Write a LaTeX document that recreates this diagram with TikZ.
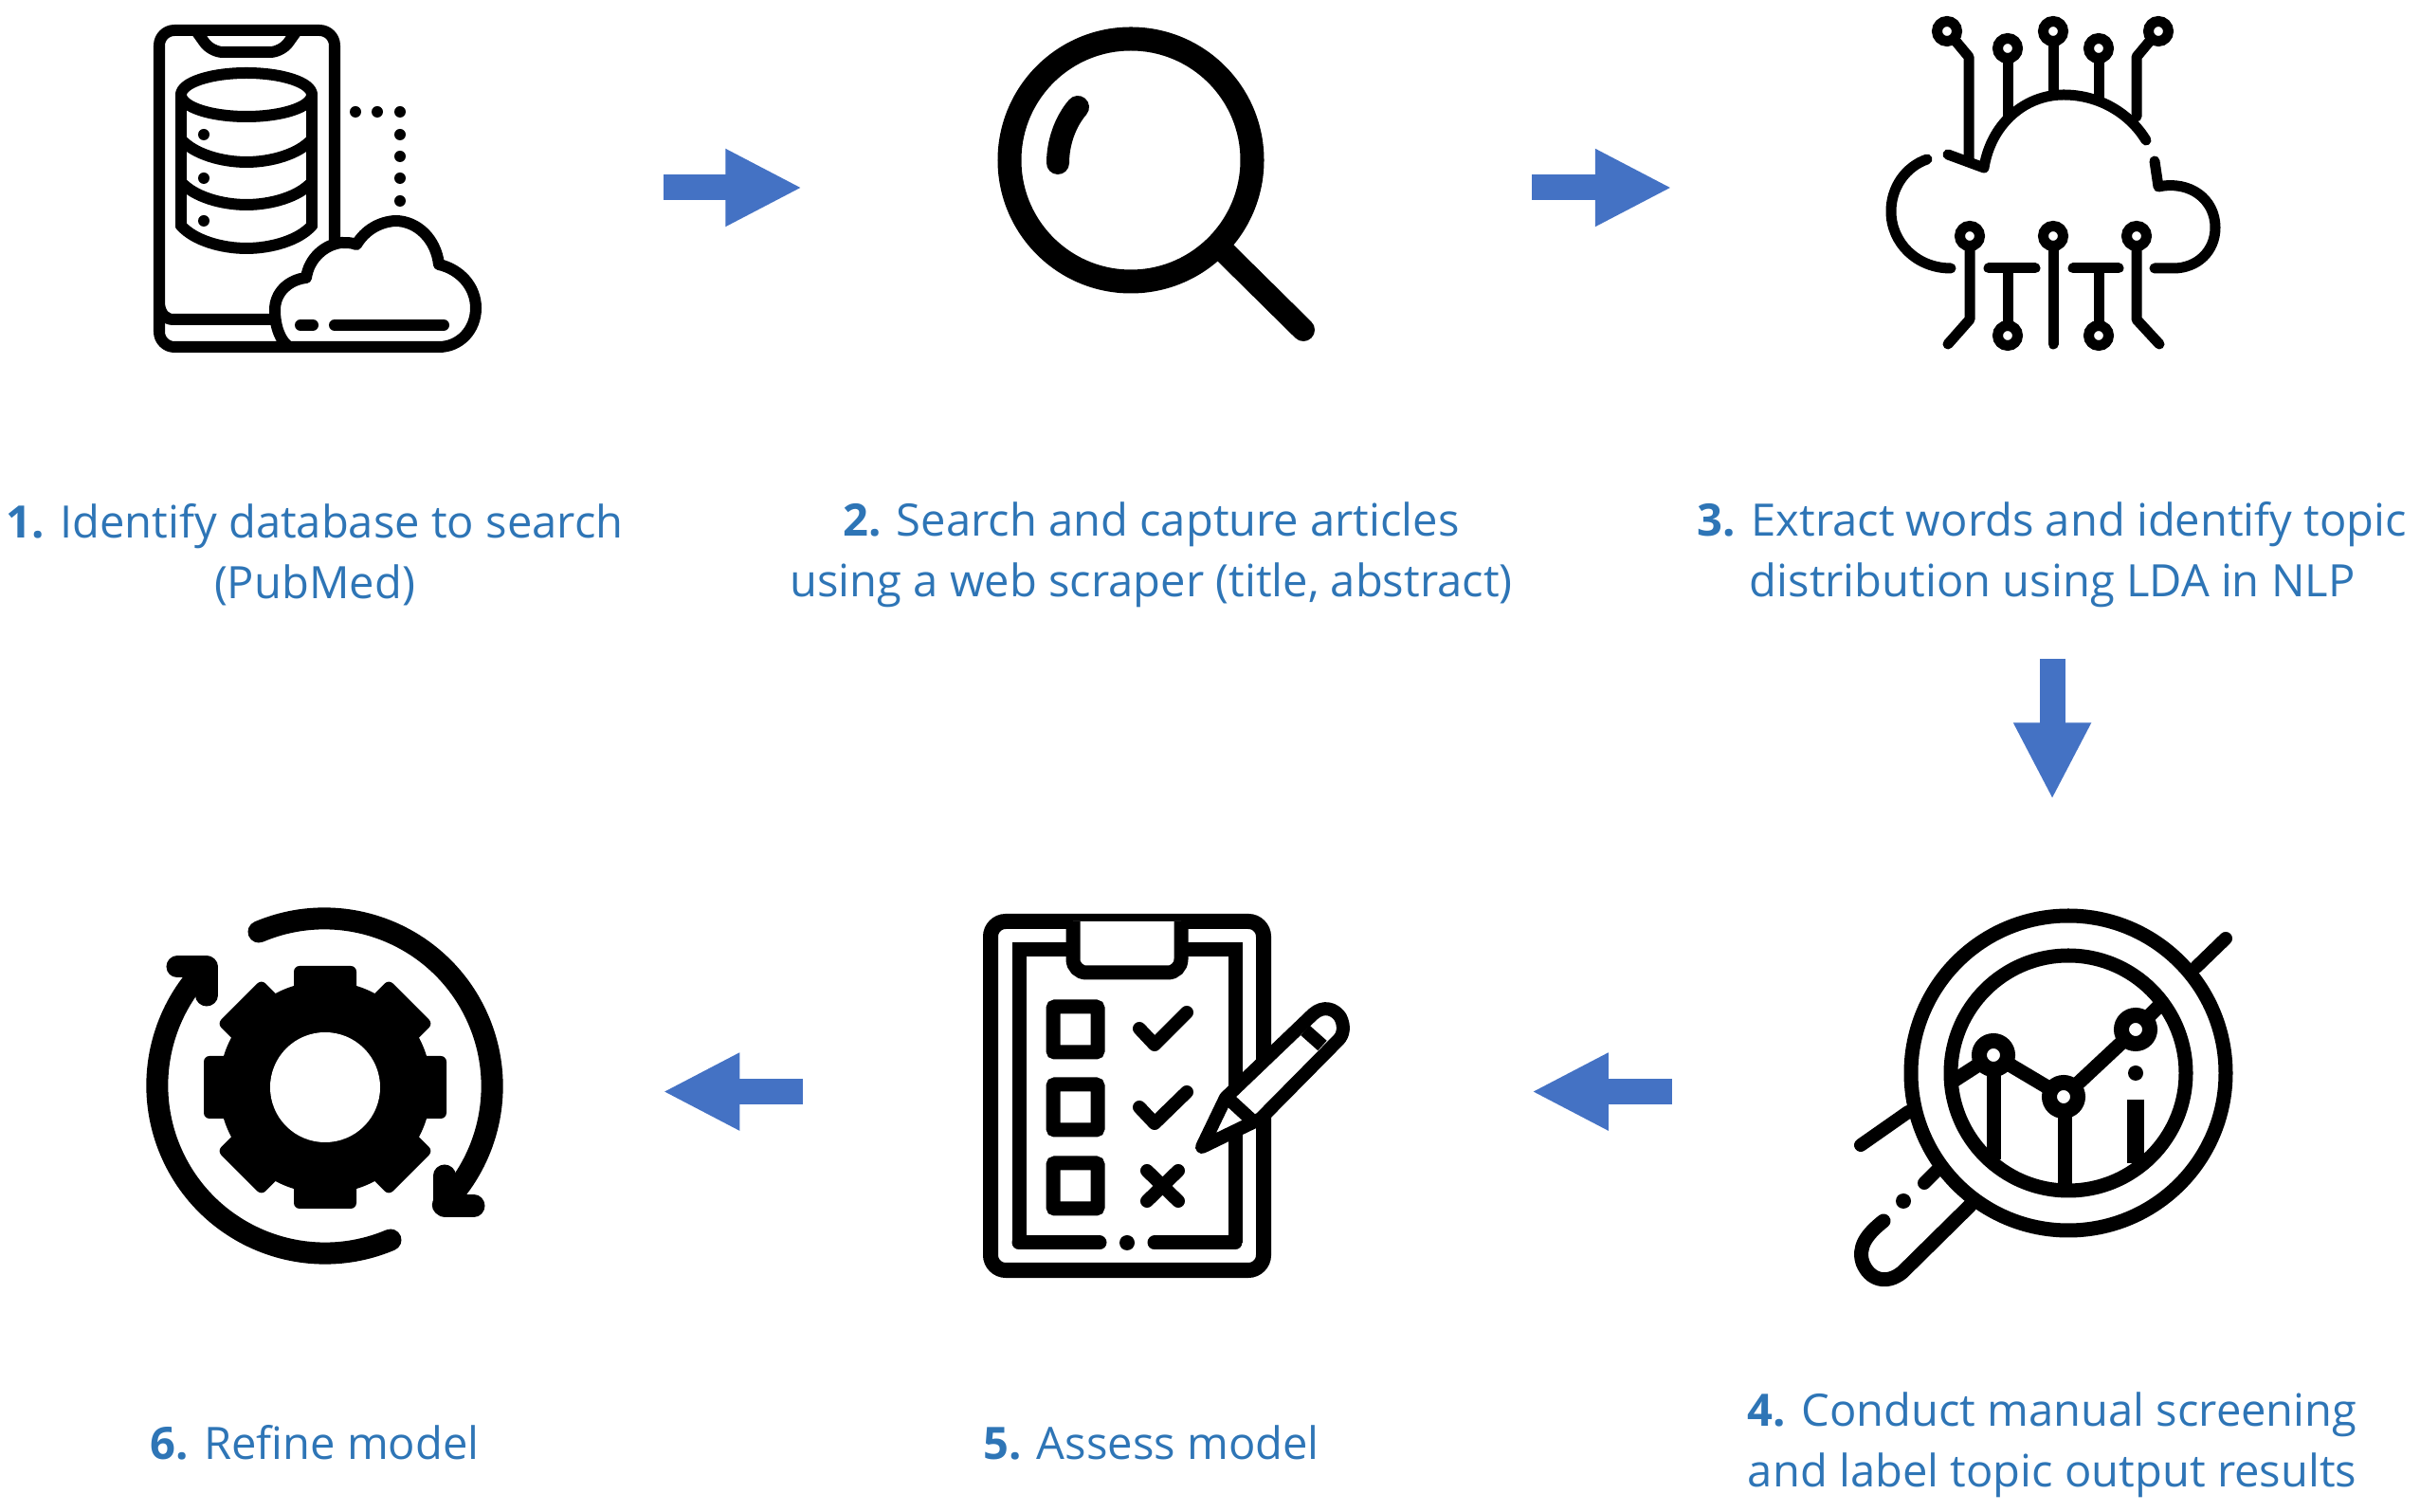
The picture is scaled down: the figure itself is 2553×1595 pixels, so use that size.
\documentclass[tikz,border=0pt]{standalone}
\usepackage{fontspec}
\setmainfont{Open Sans}
\usepackage{xcolor}
\usetikzlibrary{arrows.meta,positioning,calc}
\definecolor{flowblue}{HTML}{4472C4}
\definecolor{textblue}{HTML}{2E75B6}

\begin{document}
\begin{tikzpicture}[
    x=0.01cm, y=-0.01cm,
    icon/.style={rectangle, minimum width=3.5cm, minimum height=3.5cm, inner sep=0pt, outer sep=0pt},
    caption/.style={align=center, inner sep=0pt, outer sep=0pt, text=textblue, font=\fontsize{13.4}{18.2}\selectfont},
    arrow/.style={-{Triangle[width=0.76cm, length=0.81cm]}, line width=0.27cm, draw=flowblue, color=flowblue},
    gap/.style={shorten <=#1, shorten >=#1},
    ink/.style={line width=#1, line cap=round, line join=round},
    ink/.default=0.12cm
]
\useasboundingbox (0,0) rectangle (2553,1595);

% Icon anchors
\node[icon] (dbicon) at (332,198) {};
\node[icon, right=5.32cm of dbicon] (searchicon) {};
\node[icon, right=6cm of searchicon] (cloudicon) {};
\node[icon, below=6.03cm of cloudicon] (charticon) {};
\node[icon, left=6cm of charticon] (assessicon) {};
\node[icon, left=5.32cm of assessicon] (gearicon) {};

% Captions
\node[caption] (dbtext) at ($(dbicon)+(0,387)$) {\textbf{1.} Identify database to search\\(PubMed)};
\node[caption] (searchtext) at ($(searchicon)+(0,387)$) {\textbf{2.} Search and capture articles\\using a web scraper (title, abstract)};
\node[caption] (cloudtext) at ($(cloudicon)+(0,387)$) {\textbf{3.} Extract words and identify topic\\distribution using LDA in NLP};
\node[caption] (charttext) at ($(charticon)+(0,373)$) {\textbf{4.} Conduct manual screening\\and label topic output results};
\node[caption] (assesstext) at ($(assessicon)+(0,370)$) {\textbf{5.} Assess model};
\node[caption] (geartext) at ($(gearicon)+(0,370)$) {\textbf{6.} Refine model};

% Arrows
\draw[arrow, gap=1.93cm] (dbicon) -- (searchicon);
\draw[arrow, gap=2.26cm] (searchicon) -- (cloudicon);
\draw[arrow, shorten <=3.22cm, shorten >=1.33cm] (cloudicon) -- (charticon);
\draw[arrow, gap=2.26cm] (charticon) -- (assessicon);
\draw[arrow, gap=1.92cm] (assessicon) -- (gearicon);

% Phone with database
\draw[ink, rounded corners=0.16cm] (353,253) -- (353,32) -- (168,32) -- (168,366) -- (310,366);
\draw[ink, rounded corners=0.12cm] (208,34) -- (223,55) -- (297,55) -- (312,34);
\draw[ink] (168,322) .. controls (170,332) and (175,337) .. (183,337) -- (287,337);
\draw[ink] (260,100) ellipse [x radius=69, y radius=23];
\draw[ink] (191,100) -- (191,238);
\draw[ink] (329,100) -- (329,238);
\foreach \ybase in {147,192,238}
    \draw[ink] (191,\ybase) .. controls (205,\ybase+16) and (235,\ybase+24) .. (260,\ybase+24) .. controls (285,\ybase+24) and (315,\ybase+16) .. (329,\ybase);
\foreach \ybase in {142,188,233}
    \fill (215,\ybase) circle [radius=6];
\foreach \xdot/\ydot in {375/118,398/118,422/118,422/142,422/165,422/188,422/212}
    \fill (\xdot,\ydot) circle [radius=6];
\draw[ink, fill=white] (305,366) .. controls (296,360) and (290,345) .. (290,327) .. controls (290,308) and (305,295) .. (323,293)
    .. controls (326,272) and (343,258) .. (360,256) .. controls (366,256) and (372,256) .. (376,258)
    .. controls (385,243) and (400,234) .. (417,233) .. controls (440,233) and (460,252) .. (463,279)
    .. controls (485,284) and (502,302) .. (502,325) .. controls (502,348) and (485,366) .. (463,366) -- cycle;
\draw[ink] (317,343) -- (330,343);
\draw[ink] (353,343) -- (468,343);

% Magnifying glass
\draw[line width=0.25cm] (1193,169) circle [radius=128];
\draw[ink=0.24cm] (1293,267) -- (1375,348);
\draw[ink=0.24cm] (1137,113) .. controls (1124,128) and (1116,150) .. (1116,172);

% Circuit cloud
\foreach \xpin/\ypin in {2054/33,2118/51,2166/33,2214/51,2277/33,2078/249,2166/249,2254/249,2118/354,2214/354}
    \draw[line width=0.11cm] (\xpin,\ypin) circle [radius=10.5];
\draw[ink=0.11cm] (2062,42) -- (2077,60) -- (2077,170);
\draw[ink=0.11cm] (2118,62) -- (2118,125);
\draw[ink=0.11cm] (2166,44) -- (2166,100);
\draw[ink=0.11cm] (2214,62) -- (2214,102);
\draw[ink=0.11cm] (2269,42) -- (2254,60) -- (2254,123);
\draw[ink=0.11cm] (2033,168) .. controls (2010,176) and (1995,198) .. (1995,223) .. controls (1995,256) and (2022,283) .. (2058,283);
\draw[ink=0.11cm] (2055,163) -- (2093,177) .. controls (2100,132) and (2135,100) .. (2177,100) .. controls (2215,100) and (2247,120) .. (2264,148);
\draw[ink=0.11cm] (2273,170) -- (2277,197) .. controls (2310,190) and (2337,210) .. (2337,240) .. controls (2337,265) and (2318,283) .. (2293,283) -- (2273,283);
\draw[ink=0.11cm] (2078,260) -- (2078,337) -- (2055,363);
\draw[ink=0.11cm] (2098,283) -- (2147,283);
\draw[ink=0.11cm] (2118,283) -- (2118,343);
\draw[ink=0.11cm] (2166,260) -- (2166,363);
\draw[ink=0.11cm] (2187,283) -- (2235,283);
\draw[ink=0.11cm] (2214,283) -- (2214,343);
\draw[ink=0.11cm] (2254,260) -- (2254,337) -- (2278,363);

% Magnifier with chart
\draw[line width=0.15cm] (2182,1132) circle [radius=166];
\draw[line width=0.15cm] (2182,1132) circle [radius=124];
\draw[ink=0.14cm] (2317,1020) -- (2348,990);
\draw[ink=0.14cm] (2013,1173) -- (1963,1208);
\draw[ink=0.14cm] (2043,1235) -- (2030,1248);
\fill (2008,1267) circle [radius=8];
\draw[ink=0.15cm] (2078,1272) -- (2007,1342) .. controls (1990,1356) and (1972,1350) .. (1965,1332) .. controls (1960,1316) and (1968,1303) .. (1987,1288);
\draw[line width=0.15cm] (2058,1142) -- (2103,1113) -- (2177,1157) -- (2253,1086) -- (2277,1062);
\draw[line width=0.15cm] (2103,1113) -- (2103,1223);
\draw[line width=0.15cm] (2178,1157) -- (2178,1250);
\draw[line width=0.18cm] (2253,1160) -- (2253,1227);
\fill (2253,1132) circle [radius=8];
\foreach \xpin/\ypin in {2103/1113,2177/1157,2253/1086}
    \draw[line width=0.16cm, fill=white] (\xpin,\ypin) circle [radius=15];

% Clipboard
\draw[line width=0.16cm, rounded corners=0.16cm] (1045,972) rectangle (1333,1340);
\draw[line width=0.15cm] (1125,1002) -- (1075,1002) -- (1075,1311);
\draw[ink=0.15cm] (1075,1311) -- (1160,1311);
\draw[ink=0.15cm] (1218,1311) -- (1303,1311);
\draw[line width=0.15cm] (1253,1002) -- (1303,1002) -- (1303,1311);
\fill (1189,1311) circle [radius=8];
\draw[line width=0.15cm, rounded corners=0.14cm, fill=white] (1132,972) -- (1132,1026) -- (1246,1026) -- (1246,972);
\foreach \ybox in {1062,1144,1227}
    \draw[line width=0.15cm, rounded corners=0.02cm] (1111,\ybox) rectangle (1158,\ybox+48);
\draw[ink=0.14cm] (1202,1085) -- (1218,1102) -- (1252,1068);
\draw[ink=0.14cm] (1202,1168) -- (1218,1185) -- (1252,1152);
\draw[ink=0.14cm] (1210,1235) -- (1243,1267);
\draw[ink=0.14cm] (1243,1235) -- (1210,1267);
\draw[ink=0.14cm, fill=white] (1268,1210) -- (1293,1158) -- (1385,1070) .. controls (1396,1060) and (1408,1064) .. (1414,1073) .. controls (1419,1083) and (1417,1092) .. (1412,1097) -- (1330,1180) -- cycle;
\draw[line width=0.14cm] (1297,1160) -- (1322,1183);
\draw[line width=0.14cm] (1377,1087) -- (1395,1103);

% Gear with circular arrows
\fill (343,1147) circle [radius=112];
\foreach \toothangle in {0,45,...,315}
    \fill[rotate around={\toothangle:(343,1147)}, rounded corners=0.06cm] (310,1147) -- (310,1019) -- (376,1019) -- (376,1147) -- cycle;
\fill[white] (343,1147) circle [radius=58];
\draw[ink=0.23cm] (273,983) arc [start angle=247, end angle=405, radius=177];
\draw[ink=0.23cm] (469,1240) -- (469,1272) -- (500,1272);
\draw[ink=0.23cm] (412,1308) arc [start angle=67, end angle=225, radius=177];
\draw[ink=0.23cm] (187,1020) -- (218,1020) -- (218,1050);

\end{tikzpicture}
\end{document}
